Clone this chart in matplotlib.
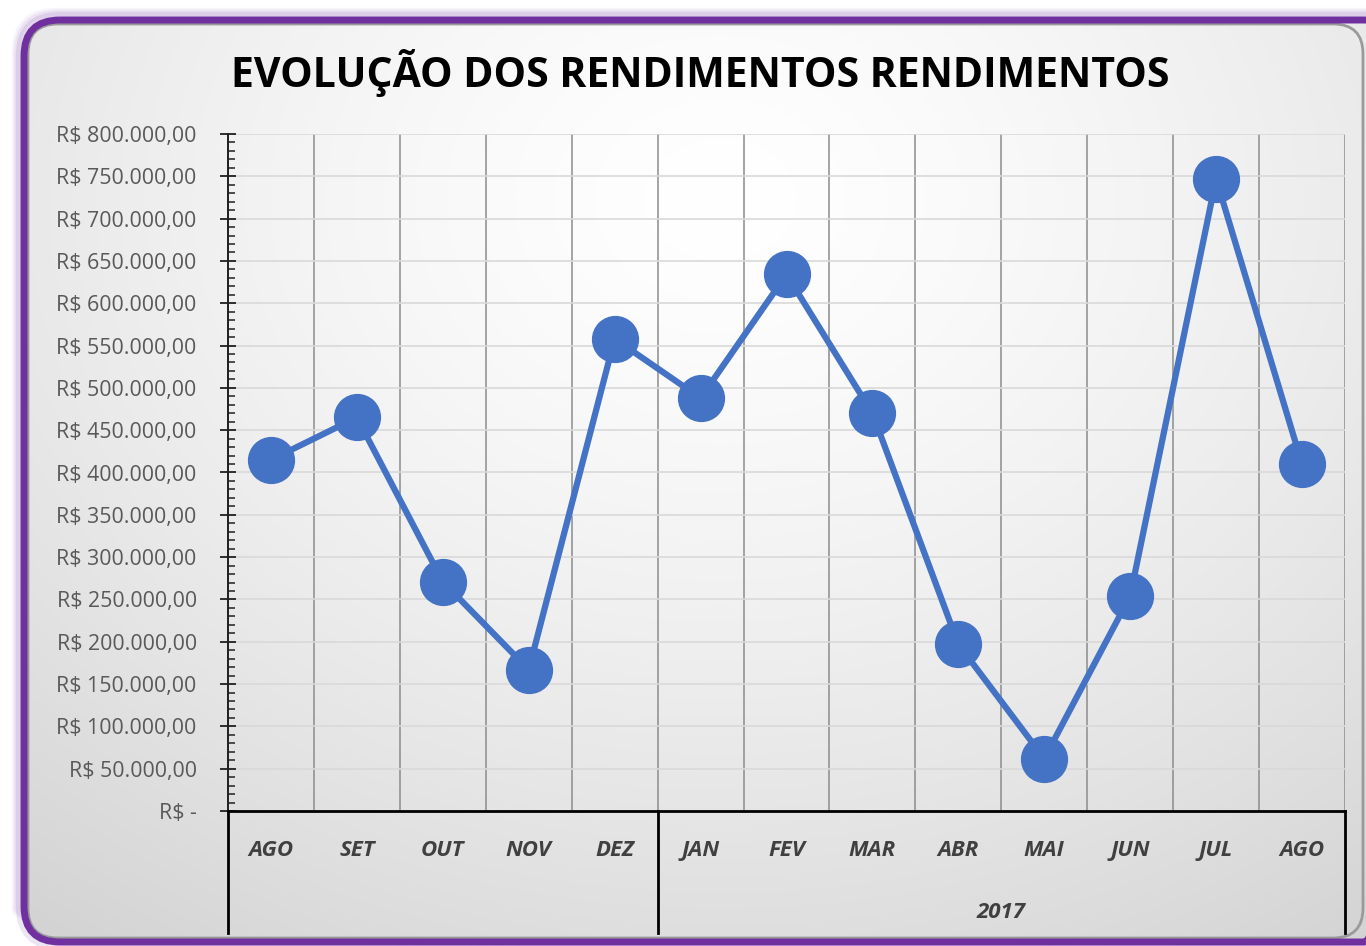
import numpy as np
import matplotlib
matplotlib.use("Agg")
import matplotlib.pyplot as plt
from matplotlib.patches import FancyBboxPatch
from matplotlib.ticker import FuncFormatter, MultipleLocator
from matplotlib.transforms import blended_transform_factory

# ---- data ----
months = ["AGO", "SET", "OUT", "NOV", "DEZ", "JAN", "FEV", "MAR", "ABR", "MAI", "JUN", "JUL", "AGO"]
values = [415000, 465000, 271000, 167000, 558000, 488000, 634000, 470000, 197000, 62000, 254000, 747000, 410000]
year_labels = ["", "2017"]
year_starts = [0, 5]
year_ends = [4, 12]
title = "EVOLUÇÃO DOS RENDIMENTOS RENDIMENTOS"

W, H = 1366, 946
fig = plt.figure(figsize=(W / 100, H / 100), dpi=100)
fig.patch.set_facecolor("white")

# ---- background frame ----
bg = fig.add_axes([0, 0, 1, 1])
bg.set_xlim(0, W)
bg.set_ylim(H, 0)
bg.axis("off")

# glow
for i, a in enumerate([0.08, 0.12, 0.18]):
    g = FancyBboxPatch((22 - 6 + i * 2, 18 - 6 + i * 2), 1400 - 22 + 12 - i * 4, 944 - 18 + 12 - i * 4,
                       boxstyle="round,pad=0,rounding_size=40", facecolor="none",
                       edgecolor="#9b6fc0", lw=6, alpha=a)
    bg.add_patch(g)

frame = FancyBboxPatch((24, 20), 1400 - 24, 942 - 20, boxstyle="round,pad=0,rounding_size=36",
                       facecolor="none", edgecolor="#7030A0", lw=5, zorder=3)
bg.add_patch(frame)

yy, xx = np.mgrid[0:H, 0:W]
d = np.sqrt(((xx - 720) / 1.25) ** 2 + ((yy - 200) / 1.0) ** 2)
t = np.clip(d / 900.0, 0, 1)
shade = 1.0 - 0.17 * t ** 1.4
img = np.dstack([shade, shade, shade])
im = bg.imshow(img, extent=(0, W, H, 0), zorder=1)
im.set_clip_path(frame)
inner = FancyBboxPatch((28, 24), 1363 - 28, 938 - 24, boxstyle="round,pad=0,rounding_size=30",
                       facecolor="none", edgecolor="#9a9a9a", lw=2, zorder=2)
bg.add_patch(inner)

# ---- main axes ----
left, right = 228 / W, 1345 / W
bottom, top = 1 - 811 / H, 1 - 134 / H
ax = fig.add_axes([left, bottom, right - left, top - bottom])
ax.set_facecolor("none")

x = np.arange(len(months))
ax.plot(x, values, color="#4472C4", lw=4.5, marker="o", markersize=33,
        markerfacecolor="#4472C4", markeredgecolor="#4472C4", zorder=5, clip_on=False)

ax.set_xlim(-0.5, len(months) - 0.5)
ax.set_ylim(0, 800000)

ax.yaxis.set_major_locator(MultipleLocator(50000))
ax.yaxis.set_minor_locator(MultipleLocator(10000))


def fmt(v, pos):
    if v == 0:
        return "R$ -"
    s = f"{v:,.2f}".replace(",", "X").replace(".", ",").replace("X", ".")
    return "R$ " + s


ax.yaxis.set_major_formatter(FuncFormatter(fmt))
ax.tick_params(axis="y", which="major", direction="inout", length=11, width=1.3, color="#202020",
               labelsize=15.4, labelcolor="#595959", pad=17)
ax.tick_params(axis="y", which="minor", direction="in", length=5, width=1.1, color="#202020")
for lab in ax.get_yticklabels():
    lab.set_fontfamily("Open Sans")

ax.set_xticks(np.arange(-0.5, len(months), 1.0), minor=True)
ax.set_xticks(x)
ax.set_xticklabels(months, fontfamily="Open Sans", fontsize=16, fontweight="bold",
                   fontstyle="italic", color="#404040")
ax.tick_params(axis="x", which="major", length=0, pad=21)
ax.tick_params(axis="x", which="minor", length=0)

ax.grid(axis="y", which="major", color="#d9d9d9", lw=1.2)
ax.grid(axis="x", which="minor", color="#8c8c8c", lw=1.1)
ax.set_axisbelow(True)

for s in ["top", "right"]:
    ax.spines[s].set_visible(False)
ax.spines["left"].set_color("#202020")
ax.spines["left"].set_linewidth(1.4)
ax.spines["bottom"].set_color("#000000")
ax.spines["bottom"].set_linewidth(2)

# multi-level category separators
trans = blended_transform_factory(ax.transData, ax.transAxes)
ybot = -(933 - 811) / 677
bounds = sorted(set([s - 0.5 for s in year_starts] + [e + 0.5 for e in year_ends]))
for b in bounds:
    ax.plot([b, b], [0, ybot], transform=trans, color="black", lw=2, clip_on=False)

for lab, s, e in zip(year_labels, year_starts, year_ends):
    if lab:
        ax.text((s + e) / 2, -(912 - 811) / 677, lab, transform=trans, ha="center", va="center",
                fontfamily="Open Sans", fontsize=16, fontweight="bold", fontstyle="italic",
                color="#404040")

fig.text(700 / W, 1 - 73 / H, title, ha="center", va="center", fontfamily="Open Sans",
         fontsize=29.5, fontweight="bold", color="black")

fig.savefig("out.png", dpi=100)
